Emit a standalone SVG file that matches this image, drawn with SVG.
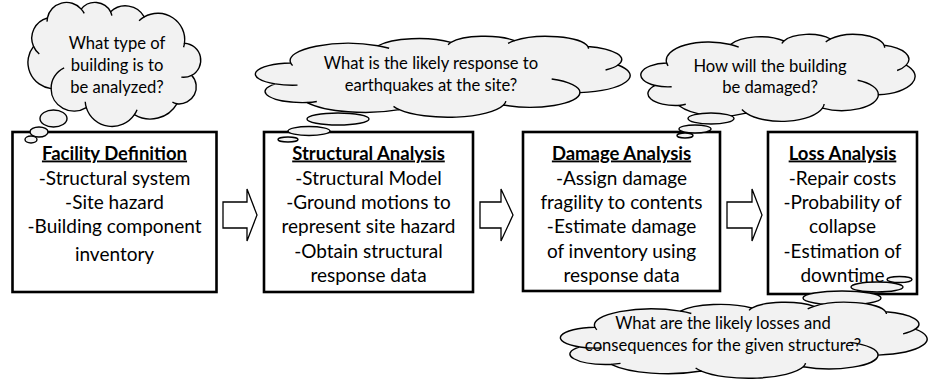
<svg xmlns="http://www.w3.org/2000/svg" xmlns:xlink="http://www.w3.org/1999/xlink" width="931" height="382" viewBox="0 0 931 382">
  <style>
    .box { fill: #ffffff; stroke: #000000; stroke-width: 2.6; }
    .cloud { fill: #f2f2f2; stroke: #000000; stroke-width: 1.4; }
    .crease { fill: none; stroke: #000000; stroke-width: 1.4; }
    .bubble { fill: #f2f2f2; stroke: #000000; stroke-width: 1.4; }
    .arrow { fill: #ffffff; stroke: #000000; stroke-width: 1.3; stroke-linejoin: miter; }
    text { font-family: Lato, "Open Sans", sans-serif; fill: #000000; text-anchor: middle; }
    .hd { font-size: 18.5px; font-weight: bold; text-decoration: underline; }
    .bt { font-size: 19px; }
    .ct { font-size: 16.6px; }
  </style>
  <defs>
    <!-- thought-cloud outline, drawn in a 43200 x 43200 unit square -->
    <path id="cloudShape" vector-effect="non-scaling-stroke" d="M3900 14370 A6753 9190 0 0 1 14005 5202 A5333 7267 0 0 1 22456 3431 A4365 5945 0 0 1 29833 2479 A4857 6595 0 0 1 38319 5574 A5333 7273 0 0 1 41819 15458 A6775 9220 0 0 1 37405 30200 A5785 7867 0 0 1 28557 36811 A6752 9215 0 0 1 16482 39263 A7720 10543 0 0 1 5806 35472 A4360 5918 0 0 1 2113 25552 A4345 5945 0 0 1 3900 14370 Z"/>
    <!-- inner fold lines where the bumps meet -->
    <path id="cloudFolds" vector-effect="non-scaling-stroke" d="M4693 26177 A4345 5945 0 0 1 2113 25552 M6928 34899 A4360 5918 0 0 1 5806 35472 M16482 39263 A6752 9215 0 0 1 15813 37522 M28827 34751 A6752 9215 0 0 1 28557 36811 M34129 22954 A5785 7867 0 0 1 37405 30200 M41819 15458 A5333 7273 0 0 1 40371 18135 M38319 5574 A4857 6595 0 0 1 38396 6837 M29078 3952 A4857 6595 0 0 1 29833 2479 M22141 4720 A4365 5945 0 0 1 22456 3431 M14005 5202 A6753 9190 0 0 1 15305 6551 M4127 15789 A6753 9190 0 0 1 3900 14370"/>
  </defs>

  <!-- process boxes -->
  <g id="facility-definition">
    <rect class="box" x="12.5" y="132" width="204" height="160"/>
    <text class="hd" x="114.5" y="159.5">Facility Definition</text>
    <text class="bt" x="114.5" y="184.5">-Structural system</text>
    <text class="bt" x="114.5" y="208.5">-Site hazard</text>
    <text class="bt" x="114.5" y="232.5">-Building component</text>
    <text class="bt" x="114.5" y="261">inventory</text>
  </g>

  <g id="structural-analysis">
    <rect class="box" x="264" y="132" width="209" height="160"/>
    <text class="hd" x="368.5" y="159.5">Structural Analysis</text>
    <text class="bt" x="368.5" y="184.5">-Structural Model</text>
    <text class="bt" x="368.5" y="209">-Ground motions to</text>
    <text class="bt" x="368.5" y="233">represent site hazard</text>
    <text class="bt" x="368.5" y="257.5">-Obtain structural</text>
    <text class="bt" x="368.5" y="281.5">response data</text>
  </g>

  <g id="damage-analysis">
    <rect class="box" x="523" y="132" width="197" height="159"/>
    <text class="hd" x="621.5" y="159.5">Damage Analysis</text>
    <text class="bt" x="621.5" y="184.5">-Assign damage</text>
    <text class="bt" x="621.5" y="209">fragility to contents</text>
    <text class="bt" x="621.5" y="233">-Estimate damage</text>
    <text class="bt" x="621.5" y="257.5">of inventory using</text>
    <text class="bt" x="621.5" y="281.5">response data</text>
  </g>

  <g id="loss-analysis">
    <rect class="box" x="768" y="132" width="149" height="162"/>
    <text class="hd" x="842.5" y="159.5">Loss Analysis</text>
    <text class="bt" x="842.5" y="184.5">-Repair costs</text>
    <text class="bt" x="842.5" y="209">-Probability of</text>
    <text class="bt" x="842.5" y="233">collapse</text>
    <text class="bt" x="842.5" y="257.5">-Estimation of</text>
    <text class="bt" x="842.5" y="281.5">downtime</text>
  </g>

  <!-- thought clouds; their trailing bubbles overlap the box corners -->
  <g id="cloud-building-type">
    <use xlink:href="#cloudShape" class="cloud" transform="translate(200 2) scale(-0.003981 0.00287)"/>
    <use xlink:href="#cloudFolds" class="crease" transform="translate(200 2) scale(-0.003981 0.00287)"/>
    <ellipse class="bubble" cx="53.5" cy="118.5" rx="13.5" ry="8.5"/>
    <ellipse class="bubble" cx="39" cy="132" rx="9" ry="5"/>
    <ellipse class="bubble" cx="31" cy="139.5" rx="6" ry="3.5"/>
    <text class="ct" x="117" y="49">What type of</text>
    <text class="ct" x="117" y="71">building is to</text>
    <text class="ct" x="117" y="93">be analyzed?</text>
  </g>

  <g id="cloud-response">
    <use xlink:href="#cloudShape" class="cloud" transform="translate(257 36) scale(0.008634 0.001875)"/>
    <use xlink:href="#cloudFolds" class="crease" transform="translate(257 36) scale(0.008634 0.001875)"/>
    <ellipse class="bubble" cx="338" cy="119" rx="31" ry="6"/>
    <ellipse class="bubble" cx="309" cy="131" rx="21" ry="4.5"/>
    <ellipse class="bubble" cx="288" cy="139.5" rx="10" ry="2.5"/>
    <text class="ct" x="431" y="69">What is the likely response to</text>
    <text class="ct" x="431" y="91">earthquakes at the site?</text>
  </g>

  <g id="cloud-damage">
    <use xlink:href="#cloudShape" class="cloud" transform="translate(642 34) scale(0.006319 0.002014)"/>
    <use xlink:href="#cloudFolds" class="crease" transform="translate(642 34) scale(0.006319 0.002014)"/>
    <ellipse class="bubble" cx="711" cy="118.5" rx="23" ry="5.5"/>
    <ellipse class="bubble" cx="695" cy="129" rx="16" ry="4"/>
    <ellipse class="bubble" cx="685" cy="135.5" rx="8" ry="2.5"/>
    <text class="ct" x="770" y="72">How will the building</text>
    <text class="ct" x="770" y="93">be damaged?</text>
  </g>

  <g id="cloud-losses">
    <ellipse class="bubble" cx="899.5" cy="279.5" rx="12.5" ry="3"/>
    <ellipse class="bubble" cx="877" cy="287" rx="26" ry="5"/>
    <ellipse class="bubble" cx="842" cy="298" rx="39" ry="7"/>
    <use xlink:href="#cloudShape" class="cloud" transform="translate(562 302) scale(0.008449 0.001759)"/>
    <use xlink:href="#cloudFolds" class="crease" transform="translate(562 302) scale(0.008449 0.001759)"/>
    <text class="ct" x="723" y="329">What are the likely losses and</text>
    <text class="ct" x="723" y="351">consequences for the given structure?</text>
  </g>

  <!-- block arrows between stages -->
  <g id="connectors">
    <polygon class="arrow" points="223,202 247,202 247,189 257,215 247,241 247,228 223,228"/>
    <polygon class="arrow" points="480,202 501,202 501,189 513,215 501,241 501,228 480,228"/>
    <polygon class="arrow" points="727,202 752,202 752,189 762,215 752,241 752,228 727,228"/>
  </g>
</svg>
